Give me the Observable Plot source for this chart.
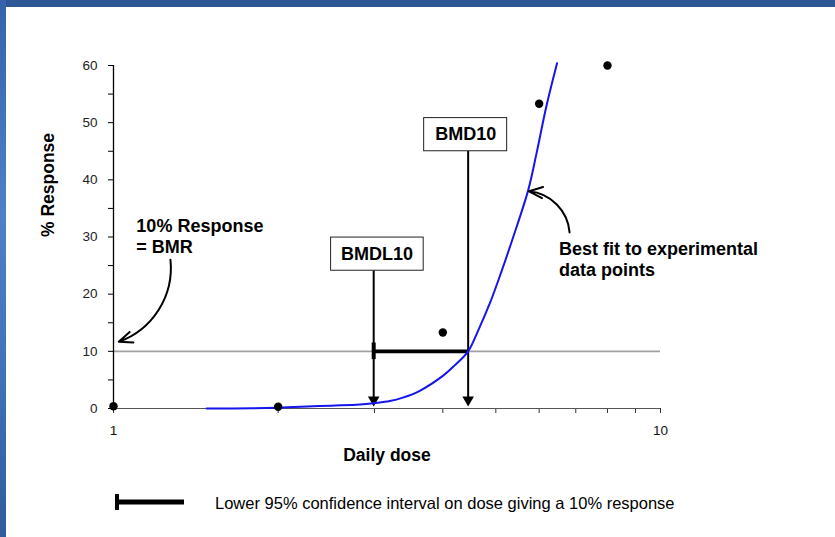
<!DOCTYPE html>
<html>
<head>
<meta charset="utf-8">
<script src="https://cdn.jsdelivr.net/npm/d3@7"></script>
<script src="https://cdn.jsdelivr.net/npm/@observablehq/plot@0.6"></script>
<style>
  html, body { margin: 0; padding: 0; background: #fff; }
  #wrap { position: relative; width: 835px; height: 537px; overflow: hidden; background: #fff; font-family: "Liberation Sans", Arial, sans-serif; }
  #topbar { position: absolute; left: 0; top: 0; width: 835px; height: 7px; background: #2d5794; z-index: 2; }
  #leftbar { position: absolute; left: 0; top: 0; width: 6px; height: 537px; z-index: 2;
    background: linear-gradient(to bottom, #3463ab 0%, #4d82c8 40%, #3f72b8 70%, #2f5c9e 100%); }
  #chart { position: absolute; left: 0; top: 0; }
  #legend { position: absolute; left: 0; top: 480px; }
</style>
</head>
<body>
<div id="wrap">
  <div id="chart"></div>
  <div id="legend"></div>
  <div id="topbar"></div>
  <div id="leftbar"></div>
</div>
<script>
// Observed experimental data points
const obsDose = [1, 2, 4, 6, 8];
const obsResp = [0.4, 0.3, 13.3, 53.3, 60.0];

// Best-fit curve
const fitDose = [1.48, 1.8, 2.0, 2.2, 2.5, 2.82, 3.0, 3.2, 3.38, 3.63, 4.0, 4.2, 4.45, 4.65, 4.88, 5.1, 5.38, 5.73, 5.93, 6.19, 6.47];
const fitResp = [0, 0.05, 0.15, 0.3, 0.5, 0.7, 0.95, 1.3, 1.9, 3.1, 5.7, 7.5, 10, 13.8, 18.5, 23.5, 30, 38.2, 44.5, 53, 60.4];

// Benchmark response and doses
const bmr = 10;
const markerLabels = ["BMDL10", "BMD10"];
const markerDose = [2.99, 4.45];
const boxBottom = [24.1, 45.0];
const boxTop = [29.9, 50.8];

// Axis ticks and tick labels
const xTicks = [1, 2, 3, 4, 5, 6, 7, 8, 9, 10];
const xLabelTicks = [1, 10];
const yTicks = [0, 5, 10, 15, 20, 25, 30, 35, 40, 45, 50, 55, 60];
const yLabelTicks = [0, 10, 20, 30, 40, 50, 60];

// Annotations (data coordinates)
const noteText = ["10% Response\n= BMR", "Best fit to experimental\ndata points"];
const noteDose = [1.101, 6.52];
const noteResp = [30.15, 26.2];
const arrowFrom = [[1.271, 26.0], [6.82, 30.8]];
const arrowTo = [[1.0225, 11.67], [5.75, 38.0]];
const arrowBend = [38, -40];

const obs = obsDose.map((d, i) => ({dose: d, resp: obsResp[i]}));
const fit = fitDose.map((d, i) => ({dose: d, resp: fitResp[i]}));
const markers = markerLabels.map((l, i) => ({label: l, dose: markerDose[i], y1: boxBottom[i], y2: boxTop[i], ym: (boxBottom[i] + boxTop[i]) / 2}));
const notes = noteText.map((t, i) => ({text: t, dose: noteDose[i], resp: noteResp[i]}));
const arrows = arrowFrom.map((f, i) => ({x1: f[0], y1: f[1], x2: arrowTo[i][0], y2: arrowTo[i][1], bend: arrowBend[i]}));
const ci = [{y: bmr, x1: markerDose[0], x2: markerDose[1]}];

const font = "'Liberation Sans', Arial, Helvetica, sans-serif";

const chart = Plot.plot({
  width: 835,
  height: 480,
  marginLeft: 113,
  marginRight: 175,
  marginTop: 65,
  marginBottom: 72,
  style: {fontFamily: font, background: "white", overflow: "visible"},
  x: {type: "log", domain: [1, 10]},
  y: {domain: [0, 60]},
  marks: [
    Plot.axisY({ticks: yTicks, tickSize: 5, stroke: "#000", tickFormat: () => "", label: null}),
    Plot.axisX({ticks: xTicks, tickSize: 5, stroke: "#333", tickFormat: () => "", label: null}),
    Plot.text(yLabelTicks, {y: d => d, frameAnchor: "left", dx: -16, textAnchor: "end", fontSize: 13.5, fill: "#222"}),
    Plot.text(xLabelTicks, {x: d => d, frameAnchor: "bottom", dy: 26, fontSize: 13.5, fill: "#111"}),
    Plot.text(["% Response"], {frameAnchor: "left", dx: -65, rotate: -90, fontSize: 17.5, fontWeight: "bold", fill: "#000"}),
    Plot.text(["Daily dose"], {frameAnchor: "bottom", dy: 52, fontSize: 17.5, fontWeight: "bold", fill: "#000"}),
    // BMR reference line
    Plot.ruleY([bmr], {stroke: "#a0a0a0", strokeWidth: 1.6}),
    // x axis line and y axis line
    Plot.ruleY([0], {stroke: "#555", strokeWidth: 1.2}),
    Plot.ruleX([1], {stroke: "#000", strokeWidth: 1.3}),
    // confidence interval bar
    Plot.ruleY(ci, {y: "y", x1: "x1", x2: "x2", stroke: "#000", strokeWidth: 3.6}),
    Plot.ruleX([markerDose[0]], {y1: bmr, y2: bmr, insetTop: -8.3, insetBottom: -8.3, stroke: "#000", strokeWidth: 4}),
    // vertical marker lines with arrowheads
    Plot.ruleX(markers, {x: "dose", y1: "y1", y2: 1, stroke: "#000", strokeWidth: 2}),
    Plot.dot(markers, {x: "dose", y: 0, symbol: "triangle", rotate: 180, r: 4.3, fill: "#000", stroke: "none", dy: -8.7}),
    // fitted curve
    Plot.line(fit, {x: "dose", y: "resp", stroke: "#1515ee", strokeWidth: 2, curve: "catmull-rom"}),
    // observed points
    Plot.dot(obs, {x: "dose", y: "resp", r: 4.2, fill: "#000", stroke: "none"}),
    // label boxes
    Plot.rect([markers[0]], {x1: "dose", x2: "dose", y1: "y1", y2: "y2", insetLeft: -42.6, insetRight: -50, fill: "white", stroke: "#222", strokeWidth: 1}),
    Plot.rect([markers[1]], {x1: "dose", x2: "dose", y1: "y1", y2: "y2", insetLeft: -44, insetRight: -39, fill: "white", stroke: "#222", strokeWidth: 1}),
    Plot.text([markers[0]], {x: "dose", y: "ym", text: "label", dx: 3.4, fontSize: 18, fontWeight: "bold", fill: "#000"}),
    Plot.text([markers[1]], {x: "dose", y: "ym", text: "label", dx: -2.5, fontSize: 18, fontWeight: "bold", fill: "#000"}),
    // annotations
    Plot.text(notes, {x: "dose", y: "resp", text: "text", textAnchor: "start", lineHeight: 1.167, fontSize: 18, fontWeight: "bold", fill: "#000"}),
    Plot.arrow([arrows[0]], {x1: "x1", y1: "y1", x2: "x2", y2: "y2", bend: arrows[0].bend, headLength: 11, headAngle: 45, stroke: "#000", strokeWidth: 2}),
    Plot.arrow([arrows[1]], {x1: "x1", y1: "y1", x2: "x2", y2: "y2", bend: arrows[1].bend, headLength: 11, headAngle: 45, stroke: "#000", strokeWidth: 2})
  ]
});
document.getElementById("chart").append(chart);

// Legend below the chart
const legend = d3.select("#legend").append("svg").attr("width", 835).attr("height", 57)
  .style("font-family", font);
legend.append("line").attr("x1", 116).attr("x2", 184).attr("y1", 22).attr("y2", 22)
  .attr("stroke", "#000").attr("stroke-width", 5);
legend.append("line").attr("x1", 117).attr("x2", 117).attr("y1", 14).attr("y2", 30)
  .attr("stroke", "#000").attr("stroke-width", 4);
legend.append("text").attr("x", 215).attr("y", 23).attr("dy", "0.35em")
  .attr("font-size", 16.5).attr("fill", "#000")
  .text("Lower 95% confidence interval on dose giving a 10% response");
</script>
</body>
</html>
